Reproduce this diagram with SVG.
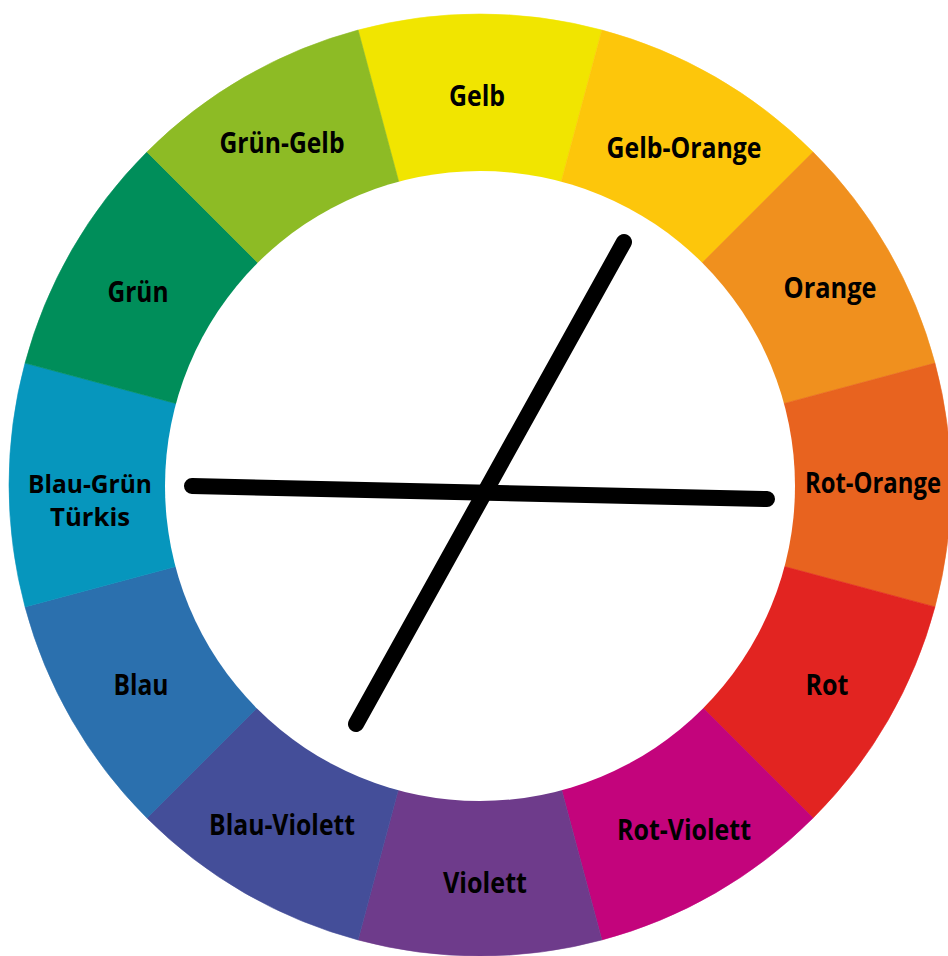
<svg xmlns="http://www.w3.org/2000/svg" width="948" height="956" viewBox="0 0 948 956">
<style>
.seg path{stroke-width:0.6}
text{font-family:"Open Sans","Liberation Sans",sans-serif;font-weight:700;font-size:28px;fill:#000;text-anchor:middle}
text.sm{font-size:25px}
.ln{stroke:#000;stroke-width:16;stroke-linecap:round;fill:none}
</style>
<rect width="948" height="956" fill="#fff"/>
<g id="gelb" class="seg"><path d="M480,485 L358.10,30.05 A471,471 0 0 1 601.90,30.05 Z" fill="#f1e500" stroke="#f1e500"/><text x="477" y="106" textLength="56" lengthAdjust="spacingAndGlyphs">Gelb</text></g>
<g id="gelb-orange" class="seg"><path d="M480,485 L601.90,30.05 A471,471 0 0 1 813.05,151.95 Z" fill="#fdc60b" stroke="#fdc60b"/><text x="684" y="158" textLength="155" lengthAdjust="spacingAndGlyphs">Gelb-Orange</text></g>
<g id="orange" class="seg"><path d="M480,485 L813.05,151.95 A471,471 0 0 1 934.95,363.10 Z" fill="#f0901e" stroke="#f0901e"/><text x="830" y="298" textLength="93" lengthAdjust="spacingAndGlyphs">Orange</text></g>
<g id="rot-orange" class="seg"><path d="M480,485 L934.95,363.10 A471,471 0 0 1 934.95,606.90 Z" fill="#e8631f" stroke="#e8631f"/><text x="873" y="493" textLength="136" lengthAdjust="spacingAndGlyphs">Rot-Orange</text></g>
<g id="rot" class="seg"><path d="M480,485 L934.95,606.90 A471,471 0 0 1 813.05,818.05 Z" fill="#e22421" stroke="#e22421"/><text x="827" y="695" textLength="43" lengthAdjust="spacingAndGlyphs">Rot</text></g>
<g id="rot-violett" class="seg"><path d="M480,485 L813.05,818.05 A471,471 0 0 1 601.90,939.95 Z" fill="#c3047c" stroke="#c3047c"/><text x="684" y="840" textLength="134" lengthAdjust="spacingAndGlyphs">Rot-Violett</text></g>
<g id="violett" class="seg"><path d="M480,485 L601.90,939.95 A471,471 0 0 1 358.10,939.95 Z" fill="#6e3b8b" stroke="#6e3b8b"/><text x="485" y="893" textLength="84" lengthAdjust="spacingAndGlyphs">Violett</text></g>
<g id="blau-violett" class="seg"><path d="M480,485 L358.10,939.95 A471,471 0 0 1 146.95,818.05 Z" fill="#444e99" stroke="#444e99"/><text x="282" y="835" textLength="146" lengthAdjust="spacingAndGlyphs">Blau-Violett</text></g>
<g id="blau" class="seg"><path d="M480,485 L146.95,818.05 A471,471 0 0 1 25.05,606.90 Z" fill="#2b70ae" stroke="#2b70ae"/><text x="141" y="695" textLength="55" lengthAdjust="spacingAndGlyphs">Blau</text></g>
<g id="blau-gruen" class="seg"><path d="M480,485 L25.05,606.90 A471,471 0 0 1 25.05,363.10 Z" fill="#0696bd" stroke="#0696bd"/><text class="sm" x="90" y="493" textLength="124" lengthAdjust="spacingAndGlyphs">Blau-Grün</text><text class="sm" x="90" y="526" textLength="80" lengthAdjust="spacingAndGlyphs">Türkis</text></g>
<g id="gruen" class="seg"><path d="M480,485 L25.05,363.10 A471,471 0 0 1 146.95,151.95 Z" fill="#008e5a" stroke="#008e5a"/><text x="138" y="302" textLength="61" lengthAdjust="spacingAndGlyphs">Grün</text></g>
<g id="gruen-gelb" class="seg"><path d="M480,485 L146.95,151.95 A471,471 0 0 1 358.10,30.05 Z" fill="#8dbb25" stroke="#8dbb25"/><text x="282" y="153" textLength="125" lengthAdjust="spacingAndGlyphs">Grün-Gelb</text></g>
<circle id="center" cx="480" cy="486" r="315" fill="#fff"/>
<g id="connectors">
<line class="ln" x1="192" y1="486" x2="767" y2="499"/>
<line class="ln" x1="624" y1="242" x2="356" y2="724"/>
</g>
</svg>
